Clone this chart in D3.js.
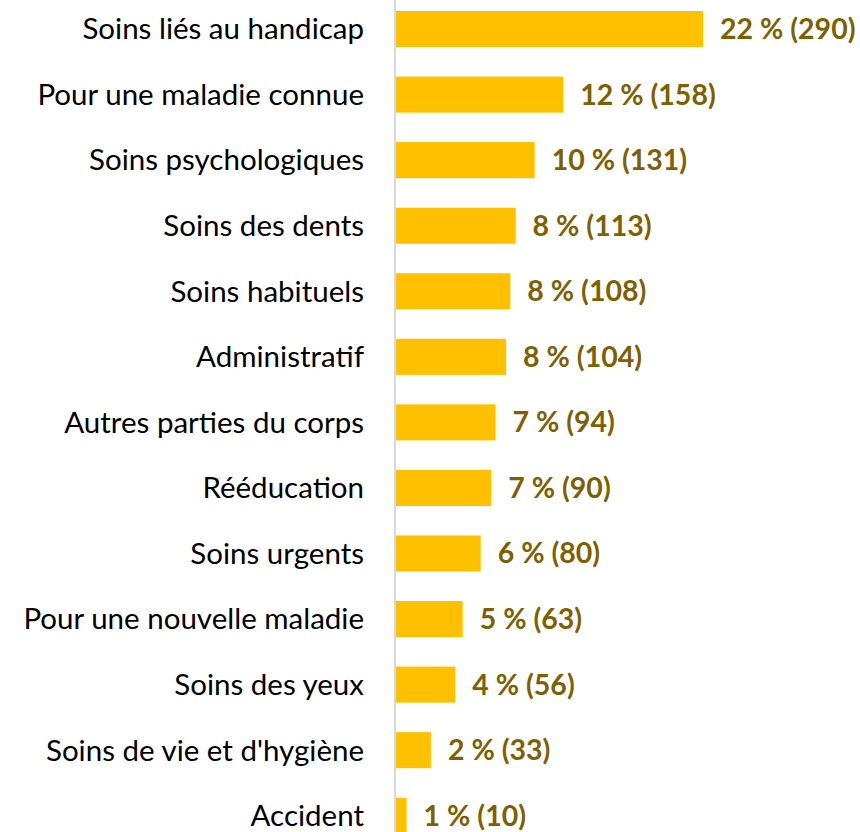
<!DOCTYPE html>
<html>
<head>
<meta charset="utf-8">
<script src="https://cdn.jsdelivr.net/npm/d3@7/dist/d3.min.js"></script>
<style>
  html, body { margin: 0; padding: 0; background: #fff; }
  svg { display: block; }
</style>
</head>
<body>
<svg id="chart" width="860" height="832"></svg>
<script>
// Motifs de recours aux soins : effectifs et parts
const categories = [
  "Soins liés au handicap",
  "Pour une maladie connue",
  "Soins psychologiques",
  "Soins des dents",
  "Soins habituels",
  "Administratif",
  "Autres parties du corps",
  "Rééducation",
  "Soins urgents",
  "Pour une nouvelle maladie",
  "Soins des yeux",
  "Soins de vie et d'hygiène",
  "Accident"
];
const counts = [290, 158, 131, 113, 108, 104, 94, 90, 80, 63, 56, 33, 10];
const percents = [22, 12, 10, 8, 8, 8, 7, 7, 6, 5, 4, 2, 1];

const W = 860, H = 832;
const svg = d3.select("#chart");

const x = d3.scaleLinear().domain([0, 290]).range([396, 703]);
const step = 65.56;
const y = d3.scaleBand()
  .domain(categories)
  .range([-3.75, -3.75 + step * categories.length])
  .paddingInner(0.45)
  .paddingOuter(0.225);

const data = categories.map((c, i) => ({ c, n: counts[i], p: percents[i] }));

// Barres
svg.append("g").selectAll("rect")
  .data(data)
  .join("rect")
  .attr("x", x(0))
  .attr("y", d => y(d.c))
  .attr("width", d => x(d.n) - x(0))
  .attr("height", y.bandwidth())
  .attr("fill", "#FFC000");

// Axe vertical des catégories
const axis = d3.axisLeft(y).tickSize(0).tickPadding(31);
const gAxis = svg.append("g")
  .attr("transform", `translate(${x(0) - 1},0)`)
  .call(axis);
gAxis.select(".domain").remove();
gAxis.append("line")
  .attr("x1", 0).attr("x2", 0)
  .attr("y1", 0).attr("y2", H)
  .attr("stroke", "#D9D9D9")
  .attr("stroke-width", 2);
gAxis.selectAll(".tick text")
  .attr("font-family", "Lato, 'Open Sans', sans-serif")
  .attr("font-size", 29.5)
  .attr("fill", "#000")
  .attr("dy", "0.35em");

// Étiquettes de valeurs
svg.append("g").selectAll("text")
  .data(data)
  .join("text")
  .attr("x", d => x(d.n) + 17)
  .attr("y", d => y(d.c) + y.bandwidth() / 2)
  .attr("dy", "0.35em")
  .attr("font-family", "Lato, 'Open Sans', sans-serif")
  .attr("font-weight", "bold")
  .attr("font-size", 28.5)
  .attr("fill", "#7F6000")
  .text(d => `${d.p} % (${d.n})`);
</script>
</body>
</html>
